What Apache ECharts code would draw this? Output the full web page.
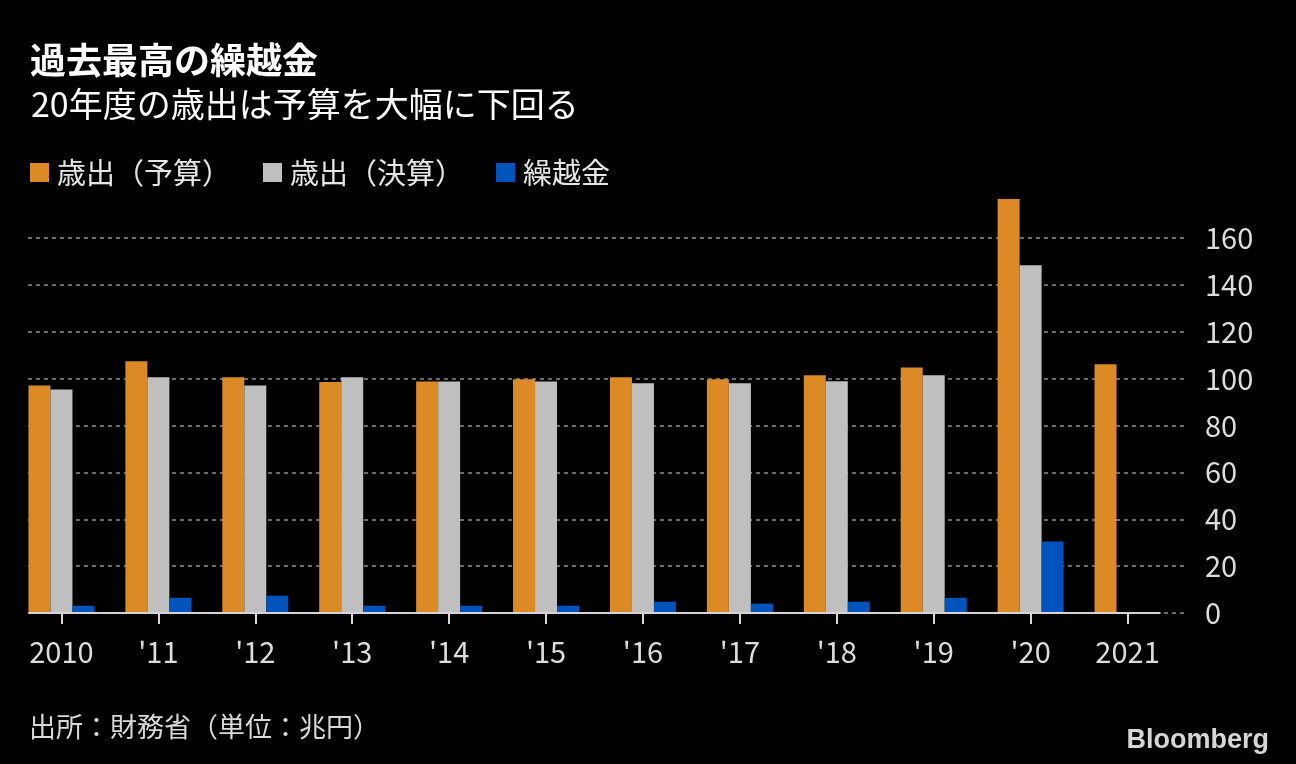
<!DOCTYPE html>
<html>
<head>
<meta charset="utf-8">
<script src="https://cdn.jsdelivr.net/npm/echarts@6/dist/echarts.min.js"></script>
<style>
html,body{margin:0;padding:0;background:#000;}
#chart{width:1296px;height:764px;}
</style>
</head>
<body>
<div id="chart"></div>
<script>
const categories = ['2010', "'11", "'12", "'13", "'14", "'15", "'16", "'17", "'18", "'19", "'20", '2021'];
const budget   = [97.1, 107.4, 100.6, 98.6, 98.8, 99.7, 100.6, 99.7, 101.4, 104.8, 176.6, 106.1];
const actual   = [95.4, 100.6, 97.1, 100.6, 98.8, 98.8, 98.0, 98.0, 98.9, 101.4, 148.4, null];
const carry    = [3.1, 6.5, 7.4, 3.1, 3.1, 3.1, 4.8, 4.0, 4.8, 6.5, 30.5, null];
const yTicks   = [0, 20, 40, 60, 80, 100, 120, 140, 160];
const seriesNames = ['歳出（予算）', '歳出（決算）', '繰越金'];
const baselineExtent = [[-0.34, 0], [11.34, 0]];

const FONT = '"Noto Sans CJK JP", "Noto Sans", sans-serif';
const chart = echarts.init(document.getElementById('chart'), null, {renderer: 'canvas'});

const barCommon = {
  type: 'bar', xAxisIndex: 0, yAxisIndex: 0, barWidth: 22, barGap: '0%',
  clip: false, z: 3
};

chart.setOption({
  backgroundColor: '#000',
  animation: false,
  textStyle: {fontFamily: FONT},
  title: [
    {text: '過去最高の繰越金', left: 25, top: 37,
     textStyle: {color: '#fff', fontSize: 36, fontWeight: 'bold', fontFamily: FONT}},
    {text: '20年度の歳出は予算を大幅に下回る', left: 26, top: 82,
     textStyle: {color: '#fff', fontSize: 34, fontWeight: 'normal', fontFamily: FONT}},
    {text: '出所：財務省（単位：兆円）', left: 24, top: 708,
     textStyle: {color: '#d9d9d9', fontSize: 27, fontWeight: 'normal', fontFamily: FONT}},
    {text: 'Bloomberg', right: 22, top: 722,
     textStyle: {color: '#d6d6d6', fontSize: 27, fontWeight: 'bold', fontFamily: '"Liberation Sans", Arial, sans-serif'}}
  ],
  legend: {
    left: 30, top: 158, padding: 0, icon: 'rect', itemWidth: 19, itemHeight: 19, itemGap: 32,
    data: seriesNames,
    textStyle: {color: '#e6e6e6', fontSize: 29, fontFamily: FONT, padding: [0, 0, 0, 3]}
  },
  grid: [
    {left: 13, right: 120, top: 238, bottom: 151, containLabel: false},
    {left: 28, right: 112, top: 238, bottom: 151, containLabel: false}
  ],
  xAxis: [
    {type: 'category', gridIndex: 0, data: categories, boundaryGap: true,
     axisLine: {show: false},
     axisTick: {show: true, alignWithLabel: true, length: 11, lineStyle: {color: '#d9d9d9', width: 2}},
     axisLabel: {color: '#dcdcdc', fontSize: 29, margin: 24, fontFamily: FONT}},
    {type: 'value', gridIndex: 0, min: -0.5, max: 11.5, show: false},
    {type: 'value', gridIndex: 1, min: 0, max: 1, show: false}
  ],
  yAxis: [
    {type: 'value', gridIndex: 0, min: 0, max: 160, interval: 20, show: false},
    {type: 'value', gridIndex: 1, min: 0, max: 160, interval: 20, position: 'right',
     axisLine: {show: false}, axisTick: {show: false},
     axisLabel: {color: '#dcdcdc', fontSize: 29, margin: 21, align: 'left', fontFamily: FONT,
                 customValues: yTicks},
     splitLine: {show: true, lineStyle: {color: '#6a6a6a', width: 2, type: [4, 4]}}}
  ],
  series: [
    Object.assign({}, barCommon, {name: seriesNames[0], data: budget, itemStyle: {color: '#DB8A26'}}),
    Object.assign({}, barCommon, {name: seriesNames[1], data: actual, itemStyle: {color: '#BFBFBF'}}),
    Object.assign({}, barCommon, {name: seriesNames[2], data: carry, itemStyle: {color: '#0054BB'}}),
    {type: 'line', xAxisIndex: 1, yAxisIndex: 0, data: baselineExtent, symbol: 'none',
     lineStyle: {color: '#d4d4d4', width: 2}, z: 5, silent: true, legendHoverLink: false, clip: false}
  ]
});
</script>
</body>
</html>
